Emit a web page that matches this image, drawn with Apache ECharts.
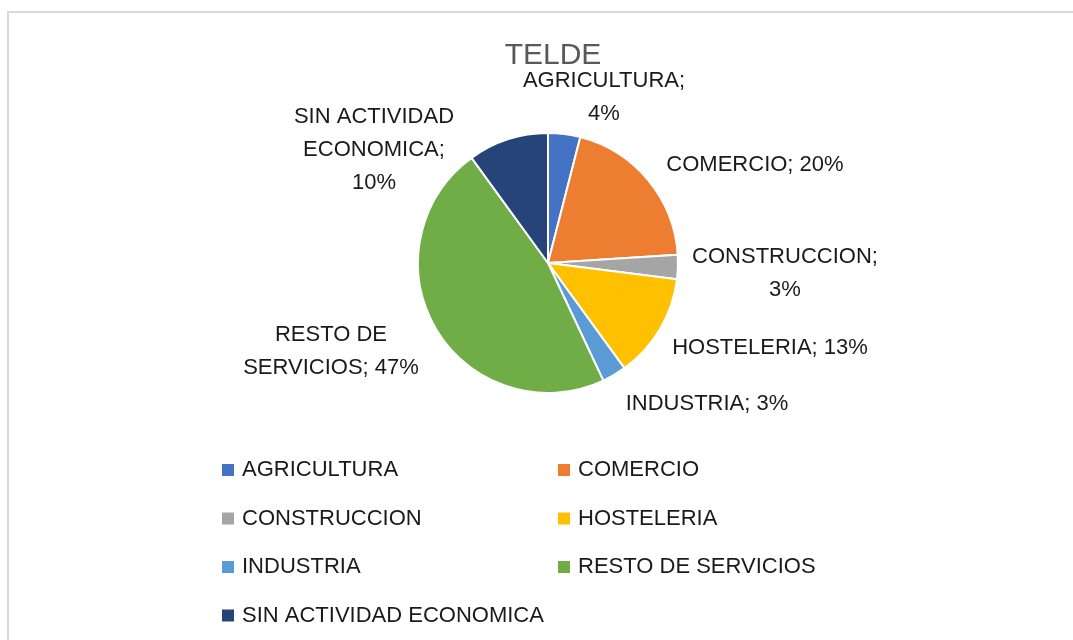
<!DOCTYPE html>
<html>
<head>
<meta charset="utf-8">
<script src="https://cdn.jsdelivr.net/npm/echarts@6/dist/echarts.min.js"></script>
<style>
  html, body { margin: 0; padding: 0; background: #fff; }
  #chart { width: 1073px; height: 640px; }
</style>
</head>
<body>
<div id="chart"></div>
<script>
// datos del sector (porcentajes)
const sectores = ['AGRICULTURA', 'COMERCIO', 'CONSTRUCCION', 'HOSTELERIA', 'INDUSTRIA', 'RESTO DE SERVICIOS', 'SIN ACTIVIDAD ECONOMICA']
const valores = [4, 20, 3, 13, 3, 47, 10]
const etiquetas = ['AGRICULTURA;', 'COMERCIO;', 'CONSTRUCCION;', 'HOSTELERIA;', 'INDUSTRIA;', 'RESTO DE\nSERVICIOS;', 'SIN ACTIVIDAD\nECONOMICA;']
const colores = ['#4472C4', '#ED7D31', '#A5A5A5', '#FFC000', '#5B9BD5', '#70AD47', '#264478']

// posiciones de las etiquetas (estilo excel)
const posEtiquetas = [[604, 97], [755, 165], [785, 273], [770, 348], [707, 404], [331, 351], [374, 150]]
const saltoLinea = [true, false, true, false, false, false, true]

const chart = echarts.init(document.getElementById('chart'))
const fuente = '"Liberation Sans", Arial, sans-serif'

const leyenda = {
  orient: 'vertical',
  top: 458,
  padding: 0,
  icon: 'rect',
  itemWidth: 14,
  itemHeight: 14,
  itemGap: 24.5,
  textStyle: { fontFamily: fuente, fontSize: 22, color: '#1a1a1a', lineHeight: 24, padding: [0, 0, 0, 2] }
}

const option = {
  color: colores,
  title: {
    text: 'TELDE',
    left: 548,
    top: 36,
    textAlign: 'center',
    textStyle: { fontFamily: fuente, fontSize: 30, fontWeight: 'normal', color: '#595959' }
  },
  graphic: [{
    type: 'rect',
    shape: { x: 8, y: 12, width: 1200, height: 800 },
    style: { fill: 'none', stroke: '#d9d9d9', lineWidth: 2 },
    silent: true
  }],
  legend: [
    Object.assign({}, leyenda, { left: 220, data: [sectores[0], sectores[2], sectores[4], sectores[6]] }),
    Object.assign({}, leyenda, { left: 556, data: [sectores[1], sectores[3], sectores[5]] })
  ],
  series: [{
    type: 'pie',
    center: [548, 263],
    radius: [0, 130],
    startAngle: 90,
    clockwise: true,
    animation: false,
    itemStyle: { borderColor: '#fff', borderWidth: 2 },
    label: {
      show: true,
      position: 'outside',
      fontFamily: fuente,
      fontSize: 22,
      lineHeight: 33,
      color: '#1a1a1a',
      align: 'center',
      formatter: function (p) {
        const i = p.dataIndex
        return etiquetas[i] + (saltoLinea[i] ? '\n' : ' ') + Math.round(p.percent) + '%'
      }
    },
    labelLine: { show: false },
    labelLayout: function (p) {
      const pos = posEtiquetas[p.dataIndex]
      return { x: pos[0], y: pos[1], align: 'center', verticalAlign: 'middle' }
    },
    data: sectores.map((s, i) => ({ name: s, value: valores[i] }))
  }]
}

chart.setOption(option)
</script>
</body>
</html>
